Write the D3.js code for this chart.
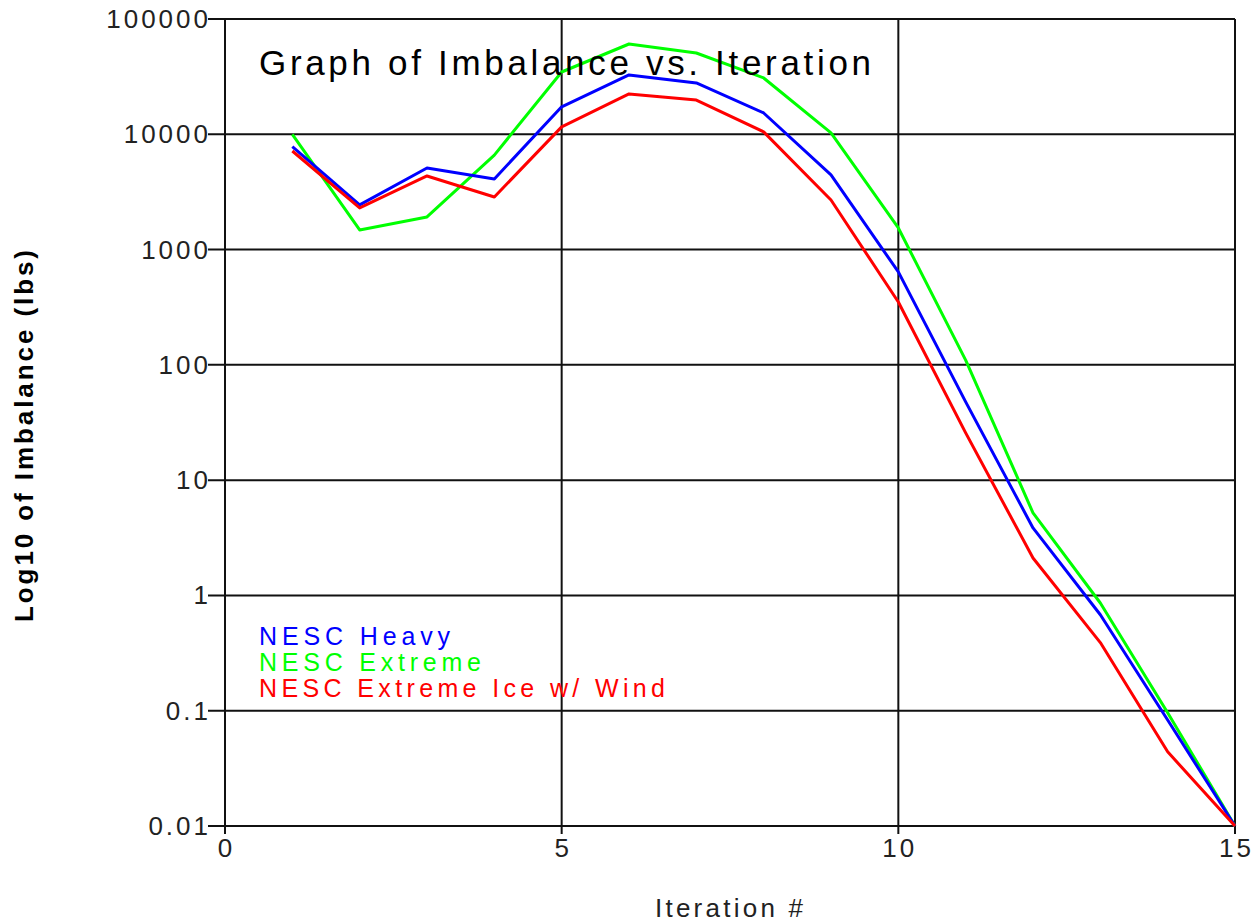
<!DOCTYPE html>
<html>
<head>
<meta charset="utf-8">
<script src="https://cdn.jsdelivr.net/npm/d3@7"></script>
<style>
  body { margin: 0; background: #fff; }
  svg { display: block; }
  .tick-label { font-family: "Liberation Sans", Arial, sans-serif; font-size: 26px; letter-spacing: 3px; fill: #222; }
</style>
</head>
<body>
<svg id="chart" width="1253" height="923"></svg>
<script>
const iterations = [1, 2, 3, 4, 5, 6, 7, 8, 9, 10, 11, 12, 13, 14, 15];
const heavy = [7800, 2440, 5100, 4100, 17300, 32700, 27900, 15300, 4440, 640, 47.7, 3.85, 0.68, 0.083, 0.01];
const extreme = [10000, 1480, 1920, 6600, 34700, 60700, 50700, 30800, 10300, 1540, 110, 5.2, 0.86, 0.096, 0.01];
const extremeIceWind = [7160, 2300, 4350, 2860, 11600, 22400, 19800, 10500, 2690, 351, 25.7, 2.11, 0.39, 0.044, 0.01];

const seriesNames = ["NESC Heavy", "NESC Extreme", "NESC Extreme Ice w/ Wind"];
const seriesColors = ["#0000ff", "#00ff00", "#ff0000"];
const legendWidths = [191, 222, 406];
const xTicks = [0, 5, 10, 15];
const yTicks = [0.01, 0.1, 1, 10, 100, 1000, 10000, 100000];
const yTickLabels = ["0.01", "0.1", "1", "10", "100", "1000", "10000", "100000"];

const svg = d3.select("#chart");
const margin = { left: 225, right: 18, top: 19, bottom: 97 };
const width = 1253, height = 923;

const x = d3.scaleLinear().domain([0, 15]).range([margin.left, width - margin.right]);
const y = d3.scaleLog().domain([0.01, 100000]).range([height - margin.bottom, margin.top]);

// grid
const grid = svg.append("g").attr("stroke", "#111").attr("stroke-width", 2);
grid.selectAll("line.h").data(yTicks).enter().append("line")
  .attr("x1", x(0) - 17).attr("x2", x(15))
  .attr("y1", d => y(d)).attr("y2", d => y(d));
grid.selectAll("line.v").data(xTicks).enter().append("line")
  .attr("x1", d => x(d)).attr("x2", d => x(d))
  .attr("y1", y(100000)).attr("y2", y(0.01) + 8);

// tick labels
svg.append("g").selectAll("text").data(yTicks).enter().append("text")
  .attr("class", "tick-label")
  .attr("x", x(0) - 14)
  .attr("y", d => y(d) + 9)
  .attr("text-anchor", "end")
  .text((d, i) => yTickLabels[i]);

svg.append("g").selectAll("text").data(xTicks).enter().append("text")
  .attr("class", "tick-label")
  .attr("x", d => x(d) + 1.5)
  .attr("y", y(0.01) + 31)
  .attr("text-anchor", "middle")
  .text(d => d);

// lines
const line = d3.line().x((d, i) => x(iterations[i])).y(d => y(d));
const allSeries = [extreme, heavy, extremeIceWind];
const drawColors = [seriesColors[1], seriesColors[0], seriesColors[2]];
allSeries.forEach((s, i) => {
  svg.append("path")
    .datum(s)
    .attr("d", line)
    .attr("fill", "none")
    .attr("stroke", drawColors[i])
    .attr("stroke-width", 3)
    .attr("stroke-linejoin", "round");
});

// title
svg.append("text")
  .attr("x", 259).attr("y", 75)
  .attr("font-family", "Liberation Sans, Arial, sans-serif")
  .attr("font-size", 35)
  .attr("textLength", 612)
  .attr("lengthAdjust", "spacing")
  .attr("fill", "#000")
  .text("Graph of Imbalance vs. Iteration");

// legend
seriesNames.forEach((name, i) => {
  svg.append("text")
    .attr("x", 259).attr("y", 645 + i * 26)
    .attr("font-family", "Liberation Sans, Arial, sans-serif")
    .attr("font-size", 25)
    .attr("textLength", legendWidths[i])
    .attr("lengthAdjust", "spacing")
    .attr("fill", seriesColors[i])
    .text(name);
});

// axis titles
svg.append("text")
  .attr("x", 655).attr("y", 917)
  .attr("font-family", "Liberation Sans, Arial, sans-serif")
  .attr("font-size", 26)
  .attr("textLength", 148)
  .attr("lengthAdjust", "spacing")
  .attr("fill", "#222")
  .text("Iteration #");

svg.append("text")
  .attr("transform", "translate(33, 622) rotate(-90)")
  .attr("font-family", "Liberation Sans, Arial, sans-serif")
  .attr("font-size", 26)
  .attr("font-weight", "bold")
  .attr("textLength", 372)
  .attr("lengthAdjust", "spacing")
  .text("Log10 of Imbalance (lbs)");
</script>
</body>
</html>
